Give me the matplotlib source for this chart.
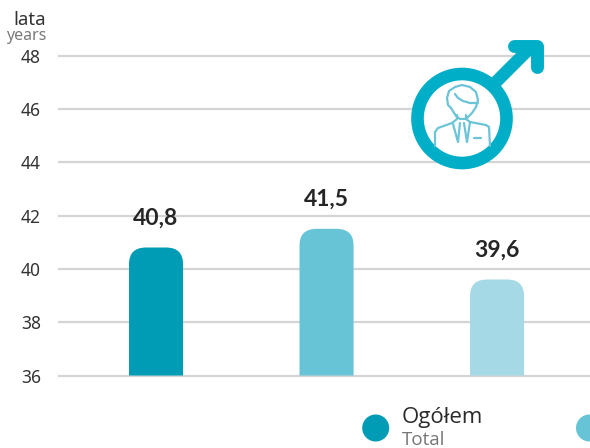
import matplotlib
matplotlib.use('Agg')
import matplotlib.pyplot as plt
from matplotlib.patches import Circle, PathPatch
from matplotlib.path import Path

# dane
categories = [0, 1, 2]
values = [40.8, 41.5, 39.6]
value_labels = ['40,8', '41,5', '39,6']
bar_colors = ['#009cb5', '#67c3d6', '#a5d9e5']
yticks = [36, 38, 40, 42, 44, 46, 48]

plt.rcParams['font.family'] = ['Noto Sans', 'DejaVu Sans']

W, H = 590, 448
fig = plt.figure(figsize=(W / 100, H / 100), dpi=100)
ax = fig.add_axes([59 / W, 1 - 375.5 / H, (W - 59) / W, 320 / H])
ax.set_xlim(-0.569, 2.545)
ax.set_ylim(36, 48)


def rounded_bar(x, top, color, width=0.317, base=36):
    # slupek z zaokraglona gora
    rx = 0.1
    ry = 0.62
    l, r = x - width / 2, x + width / 2
    verts = [(l, base), (l, top - ry), (l, top), (l + rx, top), (r - rx, top),
             (r, top), (r, top - ry), (r, base), (l, base)]
    codes = [Path.MOVETO, Path.LINETO, Path.CURVE3, Path.CURVE3, Path.LINETO,
             Path.CURVE3, Path.CURVE3, Path.LINETO, Path.CLOSEPOLY]
    ax.add_patch(PathPatch(Path(verts, codes), fc=color, ec='none', zorder=3))


for x, v, lab, c in zip(categories, values, value_labels, bar_colors):
    rounded_bar(x, v, c)
    ax.text(x, v + 0.7, lab, ha='center', va='bottom', fontsize=16.5,
            fontweight='bold', color='#262626', zorder=4, family='Lato')

ax.set_yticks(yticks)
ax.set_xticks([])
ax.tick_params(axis='y', length=0, pad=13, labelsize=12.5, labelcolor='#333333')
ax.grid(axis='y', color='#d4d4d4', lw=1.6, zorder=0, clip_on=False)
ax.set_axisbelow(True)
for s in ax.spines.values():
    s.set_visible(False)
ax.patch.set_alpha(0)

# warstwa w pikselach: ikona, legenda, jednostki
ov = fig.add_axes([0, 0, 1, 1], zorder=5)
ov.set_xlim(0, W)
ov.set_ylim(H, 0)
ov.axis('off')

teal = '#00aec7'
ov.plot([495, 533], [83, 45], color=teal, lw=9, solid_capstyle='butt')
ov.plot([514, 537, 537], [46, 46, 67], color=teal, lw=9.3,
        solid_capstyle='round', solid_joinstyle='round')
ov.add_patch(Circle((462, 118.5), 44.5, fc='white', ec=teal, lw=9.1))

# postac w ikonie
line = '#6cc4d8'
hair = dict(color=line, lw=1.6, solid_capstyle='round', solid_joinstyle='round')
ov.plot([451, 448, 447, 449, 455, 462, 470, 476, 478, 476, 472, 466, 460, 456, 451],
        [108, 105, 98, 91, 87, 85, 87, 92, 100, 107, 113, 119, 119, 116, 108], **hair)
ov.plot([455, 458, 463, 470, 478], [94, 98, 101, 103, 103], **hair)
ov.plot([435, 435, 438, 452, 457, 457], [146, 132, 128, 123, 119, 115], **hair)
ov.plot([490, 489, 486, 470, 466, 466], [146, 127, 125, 122, 119, 115], **hair)
ov.plot([453, 458, 460], [124, 142, 123], **hair)
ov.plot([464, 467, 470], [123, 142, 122], **hair)
ov.plot([474, 481], [138, 138], **hair)

# legenda
ov.add_patch(Circle((375.7, 428), 13.5, fc=bar_colors[0], ec='none'))
ov.add_patch(Circle((589.5, 428), 13.5, fc=bar_colors[1], ec='none', clip_on=True))
ov.text(402, 417, 'Ogółem', fontsize=16, color='#2b2b2b', va='center', family='Open Sans')
ov.text(402, 440, 'Total', fontsize=13.5, color='#777777', va='center', family='Open Sans')

# jednostki
ov.text(46, 20, 'lata', ha='right', va='center', fontsize=13.5, color='#333333')
ov.text(46, 36, 'years', ha='right', va='center', fontsize=11.5, color='#7a7a7a')

fig.savefig('out.png', dpi=100, facecolor='white')
